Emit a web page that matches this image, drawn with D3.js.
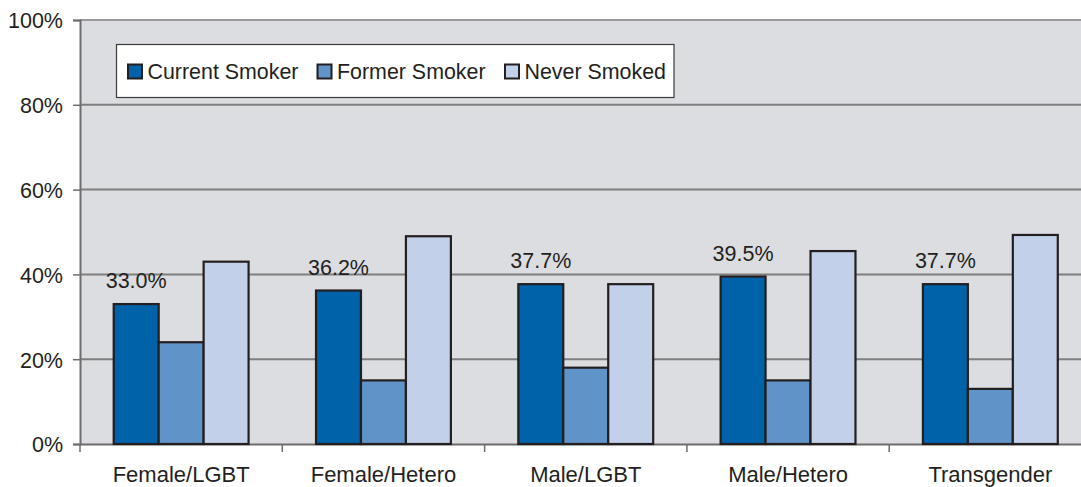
<!DOCTYPE html>
<html><head><meta charset="utf-8">
<script src="https://cdn.jsdelivr.net/npm/d3@7/dist/d3.min.js"></script>
<style>
html,body{margin:0;padding:0;background:#fff;overflow:hidden}
text{font-family:"Liberation Sans",Arial,Helvetica,sans-serif;fill:#231f20}
</style></head>
<body><svg id="chart" width="1081" height="487"></svg>
<script>
const categories = ["Female/LGBT","Female/Hetero","Male/LGBT","Male/Hetero","Transgender"];
const seriesNames = ["Current Smoker","Former Smoker","Never Smoked"];
const currentSmoker = [33.0,36.2,37.7,39.5,37.7];
const formerSmoker = [24.0,15.0,18.0,15.0,13.0];
const neverSmoked = [43.0,49.0,37.7,45.5,49.3];
const yTicks = [0,20,40,60,80,100];
const colors = ["#0062a8","#6093c7","#c2d1e9"];

const seriesValues = [currentSmoker, formerSmoker, neverSmoked];
const svg = d3.select("#chart");
const mLeft = 80, mTop = 20, mBottom = 444, mRight = 1091.5;

const x = d3.scaleBand().domain(categories).range([mLeft, mRight]).padding(0);
const x1 = d3.scaleBand().domain(seriesNames).range([0, x.bandwidth()]).paddingInner(0).paddingOuter(0.75);
const y = d3.scaleLinear().domain([0,100]).range([mBottom, mTop]);

// plot background
svg.append("rect").attr("x", mLeft).attr("y", mTop).attr("width", mRight-mLeft).attr("height", mBottom-mTop).attr("fill","#dcdde0");

// gridlines
svg.append("g").selectAll("line").data(yTicks.filter(d=>d>0)).join("line")
  .attr("x1", mLeft).attr("x2", mRight)
  .attr("y1", d=>y(d)).attr("y2", d=>y(d))
  .attr("stroke", d=> d===100 ? "#9a9a9c" : "#7f7f80").attr("stroke-width", 2);

// y axis
const yAxis = d3.axisLeft(y).tickValues(yTicks).tickFormat(d=>d+"%").tickSize(7).tickPadding(10);
const gy = svg.append("g").attr("transform",`translate(${mLeft},0)`).call(yAxis);
gy.select(".domain").attr("stroke","#6d6d6e").attr("stroke-width",2);
gy.selectAll(".tick line").attr("stroke","#6d6d6e").attr("stroke-width",1.5);
gy.selectAll(".tick text").attr("font-size",21.5).attr("fill","#231f20").attr("dy","0.37em")
  .style("font-family",'"Liberation Sans",Arial,sans-serif');

// x axis
const xAxis = d3.axisBottom(x).tickSize(0).tickPadding(0);
const gx = svg.append("g").attr("transform",`translate(0,${mBottom})`).call(xAxis);
gx.select(".domain").attr("stroke","#6d6d6e").attr("stroke-width",2);
gx.selectAll(".tick text").attr("font-size",22).attr("fill","#231f20").attr("y",38).attr("dy",0)
  .style("font-family",'"Liberation Sans",Arial,sans-serif');
// category boundary ticks
const bounds = categories.map(c=>x(c));
svg.append("g").selectAll("line").data(bounds).join("line")
  .attr("x1",d=>d).attr("x2",d=>d).attr("y1",mBottom).attr("y2",mBottom+8)
  .attr("stroke","#6d6d6e").attr("stroke-width",1.5);

// bars
const groups = svg.append("g").selectAll("g").data(categories).join("g")
  .attr("transform", c=>`translate(${x(c)},0)`);
groups.selectAll("rect").data((c,i)=>seriesNames.map((s,j)=>({s, v: seriesValues[j][i], j}))).join("rect")
  .attr("x", d=>x1(d.s)).attr("width", x1.bandwidth())
  .attr("y", d=>y(d.v)).attr("height", d=>y(0)-y(d.v))
  .attr("fill", d=>colors[d.j]).attr("stroke","#231f20").attr("stroke-width",2.2);

// labels for current smoker
svg.append("g").selectAll("text").data(categories).join("text")
  .attr("x", (c)=>x(c)+x1(seriesNames[0])+x1.bandwidth()/2)
  .attr("y", (c,i)=>y(currentSmoker[i])-16)
  .attr("text-anchor","middle").attr("font-size",21.5)
  .text((c,i)=>currentSmoker[i].toFixed(1)+"%");

// legend
const lg = svg.append("g");
lg.append("rect").attr("x",116.5).attr("y",44.5).attr("width",557.5).attr("height",53)
  .attr("fill","#fff").attr("stroke","#3a3a3a").attr("stroke-width",1.2);
const legendX = [128, 317.5, 505];
seriesNames.forEach((s,i)=>{
  lg.append("rect").attr("x",legendX[i]).attr("y",64.5).attr("width",14).attr("height",14)
    .attr("fill",colors[i]).attr("stroke","#231f20").attr("stroke-width",2);
  lg.append("text").attr("x",legendX[i]+19.5).attr("y",78.5).attr("font-size",21.4).text(s);
});
</script></body></html>
